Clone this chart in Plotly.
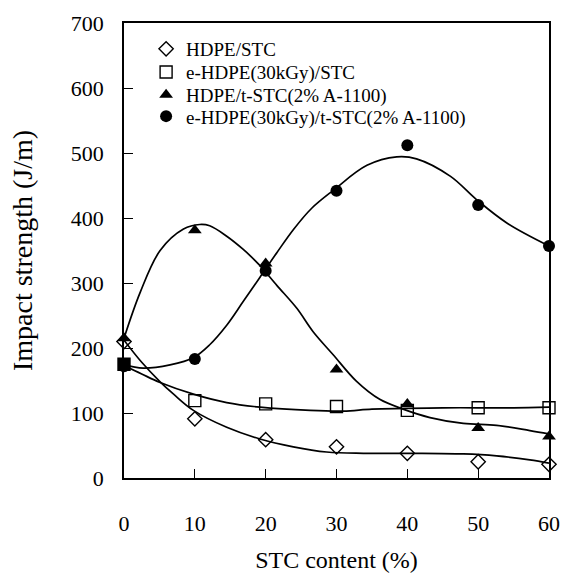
import plotly.graph_objects as go

# ---- data ----
stc = [0, 10, 20, 30, 40, 50, 60]
hdpe_stc = [210, 91, 59, 48, 38, 25, 21]
ehdpe_stc = [175, 119, 114, 110, 104, 108, 108]
hdpe_tstc = [215, 381, 330, 167, 114, 77, 64]
ehdpe_tstc = [172, 183, 319, 442, 512, 420, 357]

# smooth fitted curves
fit_hdpe_stc_x = [0, 2.5, 5.1, 7, 9.8, 14.5, 19.2, 23.9, 28.6, 33.8, 40.8, 47.9, 52.6, 57.3, 60]
fit_hdpe_stc_y = [212, 178, 148, 129, 104, 78, 60, 48, 40, 38, 38, 37, 34, 28, 23]

fit_ehdpe_stc_x = [0, 2.5, 5.1, 9.8, 14.5, 19.2, 26.3, 31, 35, 40, 45, 50, 55, 60]
fit_ehdpe_stc_y = [173, 160, 147, 129, 116, 109, 104, 103, 106, 107, 108, 108, 108, 109]

fit_hdpe_tstc_x = [0, 2.3, 5.1, 8.4, 10.7, 12.1, 14.5, 16.8, 19, 21.6, 24.4, 26.7, 29.5,
                   32.8, 36.1, 39.4, 43.2, 47.9, 52.6, 57.3, 60]
fit_hdpe_tstc_y = [215, 286, 350, 383, 390, 388, 372, 352, 329, 296, 261, 225, 190,
                   149, 121, 106, 93, 84, 81, 73, 68]

fit_ehdpe_tstc_x = [0, 2.7, 6.5, 9.8, 12.1, 14.5, 16.8, 19.2, 21.6, 23.9, 26.5, 29.6,
                    34.3, 38.5, 41.3, 46.1, 49.8, 54.1, 60]
fit_ehdpe_tstc_y = [174, 169, 174, 185, 205, 235, 271, 309, 347, 382, 415, 443,
                    481, 494, 491, 464, 428, 392, 357]

names = ["HDPE/STC", "e-HDPE(30kGy)/STC", "HDPE/t-STC(2% A-1100)",
         "e-HDPE(30kGy)/t-STC(2% A-1100)"]

FONT = "Liberation Serif, Times New Roman, serif"

fig = go.Figure()

fits = [(fit_hdpe_stc_x, fit_hdpe_stc_y), (fit_ehdpe_stc_x, fit_ehdpe_stc_y),
        (fit_hdpe_tstc_x, fit_hdpe_tstc_y), (fit_ehdpe_tstc_x, fit_ehdpe_tstc_y)]
for fx, fy in fits:
    fig.add_trace(go.Scatter(x=fx, y=fy, mode="lines", showlegend=False,
                             line=dict(color="black", width=1.7, shape="spline", smoothing=1.0),
                             hoverinfo="skip", cliponaxis=False))

fig.add_trace(go.Scatter(x=stc, y=hdpe_stc, mode="markers", name=names[0], cliponaxis=False,
                         legend="legend",
                         marker=dict(symbol="diamond-open", size=11, color="black",
                                     line=dict(width=1.4, color="black"))))
fig.add_trace(go.Scatter(x=stc, y=ehdpe_stc, mode="markers", name=names[1], cliponaxis=False,
                         legend="legend2",
                         marker=dict(symbol="square-open", size=12, color="black",
                                     line=dict(width=1.4, color="black"))))
fig.add_trace(go.Scatter(x=stc, y=hdpe_tstc, mode="markers", name=names[2], cliponaxis=False,
                         legend="legend3",
                         marker=dict(symbol="triangle-up", size=12, color="black")))
fig.add_trace(go.Scatter(x=stc, y=ehdpe_tstc, mode="markers", name=names[3], cliponaxis=False,
                         legend="legend4",
                         marker=dict(symbol="circle", size=12, color="black")))
# overlapping points at 0 % appear as a solid square in the original
fig.add_trace(go.Scatter(x=stc[:1], y=ehdpe_stc[:1], mode="markers", showlegend=False,
                         cliponaxis=False,
                         marker=dict(symbol="square", size=12, color="black")))

axis_common = dict(showgrid=False, zeroline=False, showline=True, linecolor="black",
                   linewidth=1.6, mirror=True, ticks="inside", ticklen=9, tickwidth=1.4,
                   tickcolor="black", automargin=False,
                   tickfont=dict(family=FONT, size=22, color="black"))

fig.update_xaxes(range=[0, 60], tickvals=[0, 10, 20, 30, 40, 50, 60],
                 ticklabelstandoff=25,
                 title=dict(text="STC content (%)", font=dict(family=FONT, size=24, color="black"),
                            standoff=16),
                 **axis_common)
fig.update_yaxes(range=[0, 700], tickvals=[0, 100, 200, 300, 400, 500, 600, 700],
                 ticklabelstandoff=14,
                 title=dict(text="Impact strength (J/m)", font=dict(family=FONT, size=28, color="black"),
                            standoff=30),
                 **axis_common)

leg_common = dict(x=0.052, xanchor="left", yanchor="middle",
                  bgcolor="rgba(0,0,0,0)", borderwidth=0,
                  font=dict(family=FONT, size=19, color="black"), itemwidth=30)

fig.update_layout(
    width=562, height=576,
    margin=dict(l=124, r=13, t=23, b=98),
    plot_bgcolor="white", paper_bgcolor="white",
    font=dict(family=FONT, color="black"),
    legend=dict(y=0.943, **leg_common),
    legend2=dict(y=0.892, **leg_common),
    legend3=dict(y=0.842, **leg_common),
    legend4=dict(y=0.795, **leg_common),
)

fig.write_html("out.html", config={"displayModeBar": False},
               post_script="document.body.style.margin='0';document.body.style.overflow='hidden';")
